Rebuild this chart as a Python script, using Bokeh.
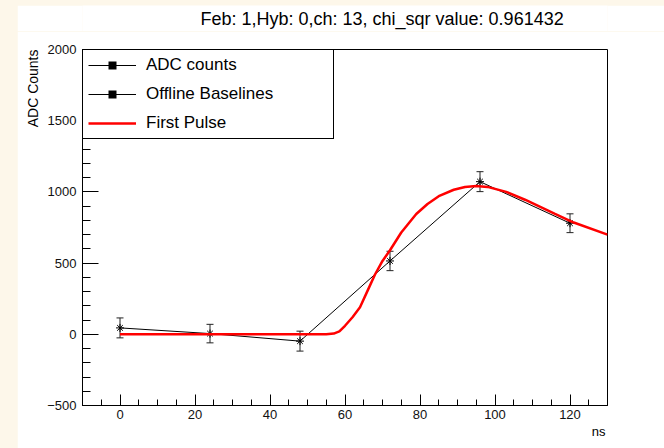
from bokeh.plotting import figure
from bokeh.models import (ColumnDataSource, Range1d, SingleIntervalTicker, Whisker,
                          TeeHead, Title, Legend, LegendItem, Spacer, Label)
from bokeh.layouts import row, column
from bokeh.embed import file_html
from bokeh.resources import INLINE

# ---- data ----
time_ns = [0, 24, 48, 72, 96, 120]
adc_counts = [45, 5, -48, 515, 1072, 780]
adc_err = [70, 65, 70, 68, 70, 66]

fit_t = [0, 55, 57, 58.5, 60, 62, 64, 66, 68, 70, 72, 75, 79, 82, 85, 89, 92, 95, 98,
         103, 108, 116, 121, 130]
fit_adc = [0, 0, 5, 20, 60, 120, 190, 305, 420, 515, 590, 715, 845, 915, 970, 1015,
           1035, 1042, 1035, 1000, 945, 845, 785, 700]

legend_labels = ["ADC counts", "Offline Baselines", "First Pulse"]
title_text = "Feb: 1,Hyb: 0,ch: 13, chi_sqr value: 0.961432"
x_title = "ns"
y_title = "ADC Counts"

FONT = "Liberation Sans"
W = 647
TITLE_H = 26

# ---- title strip (a separate figure so the text is not clipped) ----
t = figure(width=W, height=TITLE_H, output_backend="svg", toolbar_location=None,
           x_range=Range1d(0, W), y_range=Range1d(0, TITLE_H),
           min_border_left=0, min_border_right=0, min_border_top=0,
           min_border_bottom=0)
t.xaxis.visible = False
t.yaxis.visible = False
t.xgrid.visible = False
t.ygrid.visible = False
t.outline_line_color = None
t.background_fill_color = "white"
t.border_fill_color = "white"
t.add_layout(Label(x=W - 54, y=TITLE_H / 2, text=title_text, text_align="right",
                   text_baseline="middle", text_font=FONT, text_font_size="18px",
                   text_color="black"))

# ---- main plot ----
p = figure(width=W, height=443 - TITLE_H, output_backend="svg",
           toolbar_location=None,
           x_range=Range1d(-10, 130), y_range=Range1d(-500, 2000),
           min_border_left=65, min_border_right=57, min_border_top=44 - TITLE_H,
           min_border_bottom=43)
p.background_fill_color = "white"
p.border_fill_color = "white"
p.outline_line_color = "black"
p.outline_line_width = 1
p.outline_line_alpha = 1
p.xgrid.visible = False
p.ygrid.visible = False

p.xaxis.ticker = SingleIntervalTicker(interval=20, num_minor_ticks=4)
p.yaxis.ticker = SingleIntervalTicker(interval=500, num_minor_ticks=5)
p.yaxis.major_label_overrides = {-500: "\u2212500"}
for ax in (p.xaxis[0], p.yaxis[0]):
    ax.axis_line_color = "black"
    ax.major_tick_line_color = "black"
    ax.minor_tick_line_color = "black"
    ax.major_tick_out = 0
    ax.minor_tick_out = 0
    ax.major_label_text_font = FONT
    ax.major_label_text_font_size = "13px"
    ax.major_label_text_color = "#111111"
p.xaxis.major_tick_in = 11
p.xaxis.minor_tick_in = 6
p.yaxis.major_tick_in = 16
p.yaxis.minor_tick_in = 8
p.xaxis.major_label_standoff = 4
p.yaxis.major_label_standoff = 6

p.add_layout(Title(text=y_title, align="right", standoff=8, text_font=FONT,
                   text_font_size="14px", text_font_style="normal",
                   text_color="black"), "left")
p.add_layout(Title(text=x_title, align="right", offset=2, standoff=0, text_font=FONT,
                   text_font_size="13px", text_font_style="normal",
                   text_color="black"), "below")

lo = [v - e for v, e in zip(adc_counts, adc_err)]
hi = [v + e for v, e in zip(adc_counts, adc_err)]
src = ColumnDataSource(dict(t=time_ns, adc=adc_counts, lo=lo, hi=hi))

data_line = p.line("t", "adc", source=src, line_color="black", line_width=1)
wh = Whisker(base="t", lower="lo", upper="hi", source=src, line_color="#222222",
             line_width=1,
             upper_head=TeeHead(size=7, line_color="#222222", line_width=1),
             lower_head=TeeHead(size=7, line_color="#222222", line_width=1))
p.add_layout(wh)
p.scatter("t", "adc", source=src, marker="asterisk", size=8, line_color="black",
          line_width=1)

fit_line = p.line(fit_t, fit_adc, line_color="#ff0000", line_width=2.5)

# legend-only square marker (ROOT draws square markers in the legend):
# zero-size on the plot, but the legend draws it at its own size
leg_sq = p.scatter("t", "adc", source=src, marker="square", size=0,
                   fill_color="black", line_color=None)

legend = Legend(items=[
    LegendItem(label=legend_labels[0], renderers=[data_line, leg_sq]),
    LegendItem(label=legend_labels[1], renderers=[data_line, leg_sq]),
    LegendItem(label=legend_labels[2], renderers=[fit_line]),
], location="top_left", margin=0, padding=5, spacing=9, label_height=20,
    glyph_height=20, glyph_width=48, label_standoff=10, label_width=182,
    border_line_color="black", border_line_width=1, border_line_alpha=1,
    background_fill_color="white", background_fill_alpha=1,
    label_text_font=FONT, label_text_font_size="17px", label_text_color="black")
p.add_layout(legend)

layout = row(Spacer(width=17, height=448),
             column(Spacer(width=W, height=5), t, p),
             styles={"background-color": "#fdf7ea"})

open("out.html", "w").write(file_html(layout, INLINE))
